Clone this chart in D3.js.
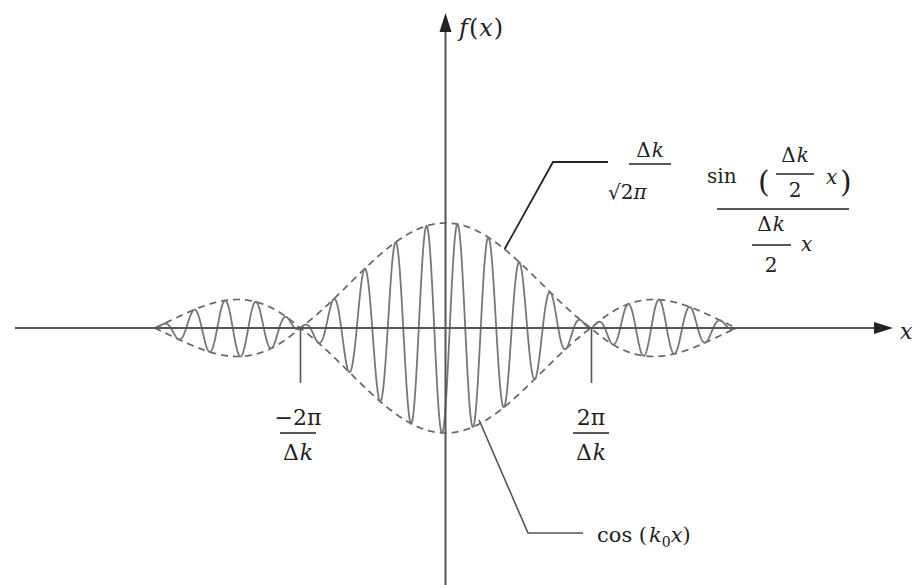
<!DOCTYPE html>
<html>
<head>
<meta charset="utf-8">
<script src="https://cdn.jsdelivr.net/npm/d3@7"></script>
<style>
  body { margin: 0; background: #fff; }
  text { font-family: "DejaVu Serif", "Liberation Serif", serif; fill: #222; }
  .it { font-style: italic; }
</style>
</head>
<body>
<div id="plot"></div>
<script>
// wave packet parameters
var deltaK = 1;
var k0 = 4.694;          // carrier wave number
var phase = -2.432;      // small phase shift of the carrier
var sideLobeGain = 1.25; // side lobes are drawn a bit taller than a true sinc
var curveRange = [-4 * Math.PI, 4 * Math.PI];
var tickValues = [-2 * Math.PI, 2 * Math.PI];
var tickNumerators = ["\u22122\u03c0", "2\u03c0"];
var topAnchorX = 2.55;     // where the sinc callout touches the envelope
var bottomAnchorX = 1.45;  // where the cos callout touches the curve

var width = 916, height = 585;

var x = d3.scaleLinear().domain([-2 * Math.PI, 2 * Math.PI]).range([300, 591]);
var y = d3.scaleLinear().domain([-1, 1]).range([433, 223]);

var svg = d3.select("#plot").append("svg")
	.attr("width", width)
	.attr("height", height);

function sinc(u) { return u === 0 ? 1 : Math.sin(u) / u; }
function amp(v) {
	var s = sinc(deltaK * v / 2);
	return Math.abs(v) > 2 * Math.PI / deltaK ? s * sideLobeGain : s;
}
function envelope(v) { return Math.abs(amp(v)); }
function wave(v) { return amp(v) * Math.cos(k0 * v + phase); }

var samples = d3.range(0, 2001).map(function(i) {
	return curveRange[0] + (curveRange[1] - curveRange[0]) * i / 2000;
});

var line = d3.line()
	.x(function(d) { return x(d[0]); })
	.y(function(d) { return y(d[1]); });

// dashed envelope, upper and lower
[1, -1].forEach(function(sgn) {
	svg.append("path")
		.attr("d", line(samples.map(function(v) { return [v, sgn * envelope(v)]; })))
		.attr("fill", "none").attr("stroke", "#666").attr("stroke-width", 1.7)
		.attr("stroke-dasharray", "7,5");
});

// the packet itself
svg.append("path")
	.attr("d", line(samples.map(function(v) { return [v, wave(v)]; })))
	.attr("fill", "none").attr("stroke", "#777").attr("stroke-width", 1.8);

// axes
var x0 = x(0), y0 = y(0);
svg.append("line").attr("x1", 15).attr("x2", 878).attr("y1", y0).attr("y2", y0)
	.attr("stroke", "#555").attr("stroke-width", 2);
svg.append("polygon")
	.attr("points", [[874, y0 - 6], [893, y0], [874, y0 + 6]].join(" "))
	.attr("fill", "#222");
svg.append("line").attr("x1", x0).attr("x2", x0).attr("y1", height).attr("y2", 28)
	.attr("stroke", "#555").attr("stroke-width", 2);
svg.append("polygon")
	.attr("points", [[x0 - 6, 32], [x0, 13], [x0 + 6, 32]].join(" "))
	.attr("fill", "#222");

svg.append("g")
	.attr("transform", "translate(0," + y0 + ")")
	.call(d3.axisBottom(x).tickValues(tickValues).tickSize(55).tickFormat(""))
	.call(function(g) {
		g.select(".domain").remove();
		g.selectAll(".tick line").attr("stroke", "#555").attr("stroke-width", 1.6);
	});

// "Δk" with upright delta and italic k
function deltaK_text(sel) {
	sel.append("tspan").text("\u0394");
	sel.append("tspan").attr("class", "it").attr("dx", 1).text("k");
	return sel;
}
function bar(x1, x2, yy) {
	svg.append("line").attr("x1", x1).attr("x2", x2).attr("y1", yy).attr("y2", yy)
		.attr("stroke", "#222").attr("stroke-width", 1.6);
}

// tick labels as fractions
tickValues.forEach(function(t, i) {
	var cx = x(t) + (i === 0 ? -2 : 0);
	svg.append("text").attr("x", cx).attr("y", 425).attr("text-anchor", "middle")
		.attr("font-size", 22).text(tickNumerators[i]);
	bar(cx - 18, cx + 18, 433);
	deltaK_text(svg.append("text").attr("x", cx).attr("y", 460).attr("text-anchor", "middle")
		.attr("font-size", 22));
});

// axis titles
var fx = svg.append("text").attr("x", 459).attr("y", 36).attr("font-size", 24)
	.attr("letter-spacing", 1);
fx.append("tspan").attr("class", "it").text("f");
fx.append("tspan").text("(");
fx.append("tspan").attr("class", "it").text("x");
fx.append("tspan").text(")");
svg.append("text").attr("x", 900).attr("y", 339).attr("font-size", 22)
	.attr("class", "it").text("x");

// sinc callout
var ta = [x(topAnchorX), y(envelope(topAnchorX))];
svg.append("path")
	.attr("d", "M" + ta + "L553,162L608,162")
	.attr("fill", "none").attr("stroke", "#222").attr("stroke-width", 1.8);

deltaK_text(svg.append("text").attr("x", 650).attr("y", 157).attr("text-anchor", "middle")
	.attr("font-size", 20));
bar(629, 671, 164);
var sq = svg.append("text").attr("x", 608).attr("y", 199).attr("font-size", 20);
sq.append("tspan").text("\u221a2");
sq.append("tspan").attr("class", "it").text("\u03c0");

svg.append("text").attr("x", 707).attr("y", 183).attr("font-size", 20).text("sin");
svg.append("text").attr("x", 758).attr("y", 192).attr("font-size", 30).text("(");
deltaK_text(svg.append("text").attr("x", 795).attr("y", 162).attr("text-anchor", "middle")
	.attr("font-size", 20));
bar(776, 814, 174);
svg.append("text").attr("x", 795).attr("y", 197).attr("text-anchor", "middle")
	.attr("font-size", 20).text("2");
svg.append("text").attr("x", 826).attr("y", 184).attr("font-size", 20)
	.attr("class", "it").text("x");
svg.append("text").attr("x", 840).attr("y", 192).attr("font-size", 30).text(")");
bar(717, 849, 209);
deltaK_text(svg.append("text").attr("x", 771).attr("y", 231).attr("text-anchor", "middle")
	.attr("font-size", 20));
bar(752, 791, 245);
svg.append("text").attr("x", 771).attr("y", 272).attr("text-anchor", "middle")
	.attr("font-size", 20).text("2");
svg.append("text").attr("x", 801).attr("y", 251).attr("font-size", 20)
	.attr("class", "it").text("x");

// cos callout
var ba = [x(bottomAnchorX), y(-envelope(bottomAnchorX)) - 4];
svg.append("path")
	.attr("d", "M" + ba + "L528,533L583,533")
	.attr("fill", "none").attr("stroke", "#555").attr("stroke-width", 1.6);
var cl = svg.append("text").attr("x", 597).attr("y", 542).attr("font-size", 21);
cl.append("tspan").text("cos (");
cl.append("tspan").attr("class", "it").attr("dx", 2).text("k");
cl.append("tspan").attr("font-size", 14).attr("dy", 5).text("0");
cl.append("tspan").attr("class", "it").attr("dy", -5).text("x");
cl.append("tspan").text(")");
</script>
</body>
</html>
